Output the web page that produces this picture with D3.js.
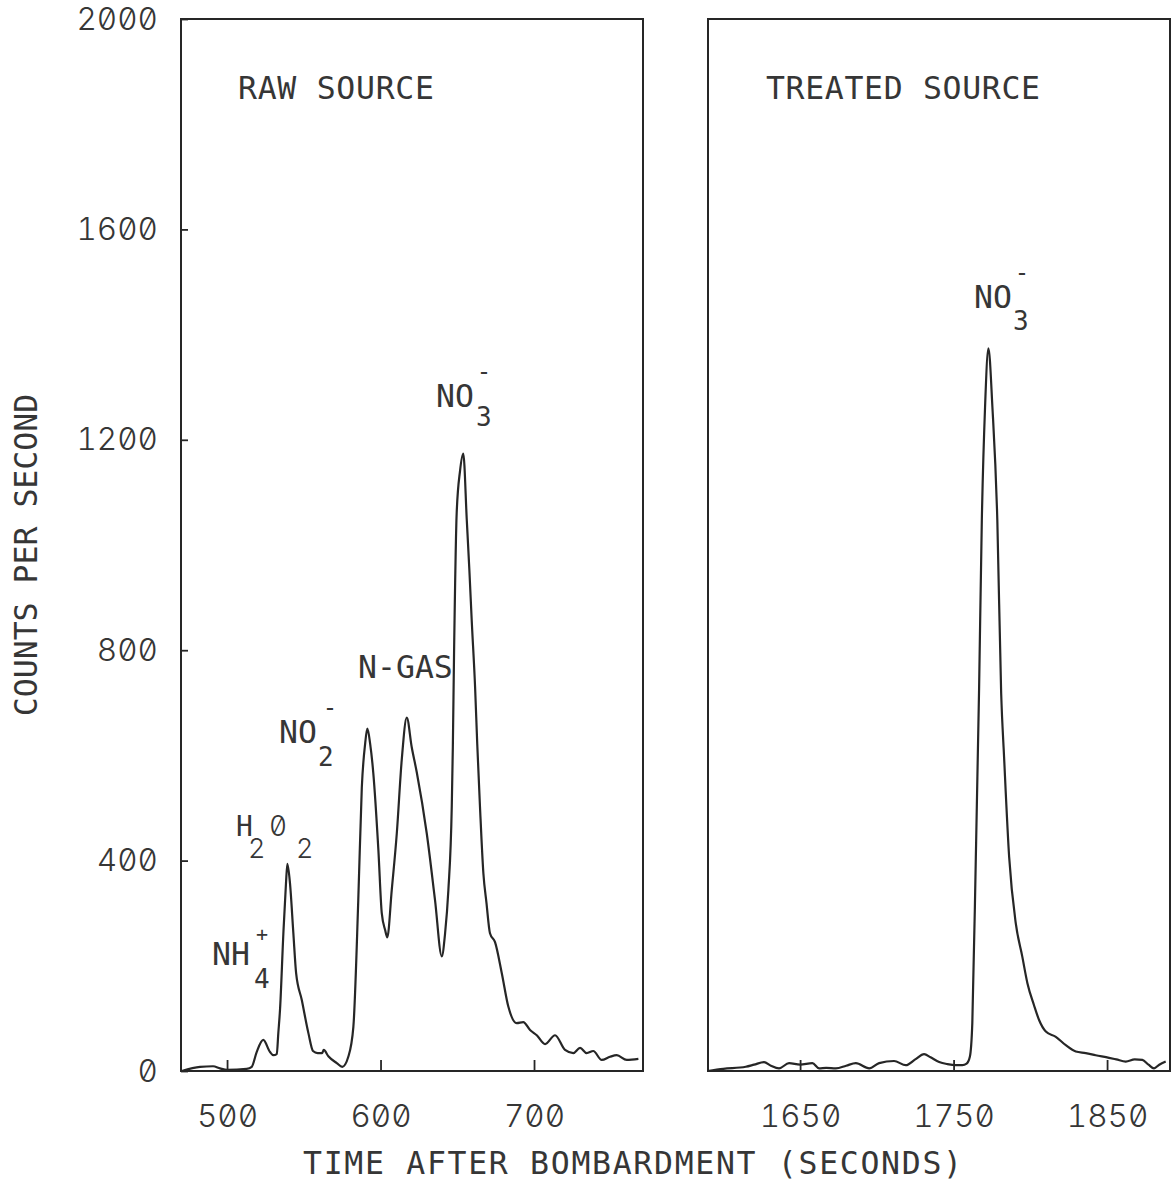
<!DOCTYPE html>
<html>
<head>
<meta charset="utf-8">
<script src="https://cdn.jsdelivr.net/npm/d3@7"></script>
<style>
  html, body { margin: 0; padding: 0; background: #fff; }
  svg { display: block; }
  text { font-family: "DejaVu Sans Mono", "Liberation Mono", monospace; fill: #363636; }
  .num { font-family: Inter, "DejaVu Sans Mono", monospace; font-weight: 300;
         font-feature-settings: "tnum" 1, "zero" 1; }
</style>
</head>
<body>
<svg id="chart" width="1172" height="1195"></svg>
<script>
// ---------------- DATA ----------------
// Raw source: time after bombardment (s) and counts per second
const rawTime = [470.5, 482.4, 490.9, 495.4, 500, 512.8, 516.1, 519.3, 523.6, 528.0,
  530.2, 532.4, 533.4, 534.5, 536.7, 538.4, 539.3, 541.0, 543.2, 545.0,
  548.7, 553.0, 556.0, 559.0, 561.9, 563.0, 566.0, 571.5, 575.1, 579.0,
  582.3, 585.5, 587.8, 590.0, 591.4, 593.2, 595.3, 598.6, 600.8, 603.0,
  604.4, 607.3, 610.6, 613.8, 617.1, 620.3, 623.6, 630.1, 635.5, 639.9,
  642.0, 644.2, 646.4, 647.1, 647.9, 649.6, 651.8, 653.9, 656.2, 657.9,
  659.4, 661.6, 663.0, 664.8, 667.0, 669.0, 671.3, 674.6, 679.0, 683.3,
  688.7, 693.0, 697.4, 701.8, 707.2, 713.7, 720.2, 725.6, 730.0, 734.3,
  738.6, 744.1, 749.5, 753.9, 760.4, 768.0];
const rawCounts = [0, 8, 9, 5, 2, 4, 8, 36, 59, 36,
  30, 32, 72, 116, 262, 357, 394, 357, 262, 186,
  135, 72, 38, 34, 34, 40, 28, 15, 8, 27,
  84, 325, 539, 623, 651, 623, 566, 420, 300, 268,
  254, 344, 452, 591, 672, 616, 568, 452, 325, 218,
  260, 344, 502, 615, 794, 1060, 1141, 1174, 1047, 951,
  857, 730, 622, 502, 376, 320, 262, 245, 186, 122,
  91, 93, 78, 68, 51, 68, 40, 34, 44, 34,
  38, 21, 27, 30, 21, 23];

// Treated source
const treatedTime = [1589.6, 1600, 1614.6, 1620, 1626.5, 1631, 1636.3, 1642.8, 1650, 1658.0,
  1662.4, 1667, 1673.3, 1680, 1686.3, 1695.0, 1701.5, 1711.2, 1718.9, 1725,
  1730.8, 1735, 1740.6, 1746, 1751.4, 1755.7, 1758.5, 1760.6, 1762.2, 1764.5,
  1766.6, 1768.4, 1770.5, 1772.7, 1775.3, 1778.5, 1781.0, 1782.9, 1786.2, 1790.5,
  1794.8, 1798.1, 1802.4, 1805.7, 1810.1, 1816.6, 1823.1, 1829.6, 1836.1, 1842.6,
  1851.3, 1856, 1862.2, 1868, 1873.0, 1877, 1880.6, 1884, 1888.2];
const treatedCounts = [0, 4, 8, 12, 17, 10, 5, 15, 12, 15,
  5, 6, 5, 10, 15, 5, 15, 19, 11, 22,
  32, 26, 17, 13, 11, 11, 14, 27, 91, 407,
  724, 1047, 1262, 1374, 1262, 1047, 718, 597, 407, 281,
  217, 167, 125, 97, 75, 65, 49, 37, 34, 30,
  25, 22, 18, 22, 21, 12, 5, 12, 18];

const yTicks = [0, 400, 800, 1200, 1600, 2000];
const rawXTicks = [500, 600, 700];
const treatedXTicks = [1650, 1750, 1850];
const rawDomain = [470, 771];
const treatedDomain = [1590, 1891];
const yDomain = [0, 2000];

const panelTitles = ["RAW SOURCE", "TREATED SOURCE"];
const xTitle = "TIME AFTER BOMBARDMENT (SECONDS)";
const yTitle = "COUNTS PER SECOND";

// ---------------- LAYOUT ----------------
const svg = d3.select("#chart");
svg.append("rect").attr("width", 1172).attr("height", 1195).attr("fill", "#fff");

const INK = "#262626";
const FS = 31.5;

const y = d3.scaleLinear().domain(yDomain).range([1071, 19]);
const xL = d3.scaleLinear().domain(rawDomain).range([181, 643]);
const xR = d3.scaleLinear().domain(treatedDomain).range([708, 1170]);

function styleAxis(g) {
  g.select(".domain").remove();
  g.selectAll(".tick line").attr("stroke", INK).attr("stroke-width", 1.8);
  g.selectAll(".tick text").attr("font-size", FS).attr("fill", "#363636")
    .attr("font-family", null).attr("class", "num");
}

// boxes
[xL, xR].forEach(x => {
  svg.append("rect")
    .attr("x", x.range()[0]).attr("y", y.range()[1])
    .attr("width", x.range()[1] - x.range()[0])
    .attr("height", y.range()[0] - y.range()[1])
    .attr("fill", "none").attr("stroke", INK).attr("stroke-width", 2);
});

// y axis (left panel)
svg.append("g").attr("transform", `translate(${xL.range()[0]},0)`)
  .call(d3.axisLeft(y).tickValues(yTicks).tickSize(-7).tickPadding(23).tickFormat(d3.format("d")))
  .call(styleAxis);

// x axes
svg.append("g").attr("transform", `translate(0,${y.range()[0]})`)
  .call(d3.axisBottom(xL).tickValues(rawXTicks).tickSize(-11).tickPadding(34).tickFormat(d3.format("d")))
  .call(styleAxis);
svg.append("g").attr("transform", `translate(0,${y.range()[0]})`)
  .call(d3.axisBottom(xR).tickValues(treatedXTicks).tickSize(-11).tickPadding(34).tickFormat(d3.format("d")))
  .call(styleAxis);

// curves
const rawData = rawTime.map((t, i) => ({ t, v: rawCounts[i] }));
const treatedData = treatedTime.map((t, i) => ({ t, v: treatedCounts[i] }));

svg.append("path").datum(rawData)
  .attr("fill", "none").attr("stroke", INK).attr("stroke-width", 2.2).attr("stroke-linejoin", "round")
  .attr("d", d3.line().x(d => xL(d.t)).y(d => y(d.v)).curve(d3.curveMonotoneX));
svg.append("path").datum(treatedData)
  .attr("fill", "none").attr("stroke", INK).attr("stroke-width", 2.2).attr("stroke-linejoin", "round")
  .attr("d", d3.line().x(d => xR(d.t)).y(d => y(d.v)).curve(d3.curveMonotoneX));

// panel titles
svg.append("text").attr("x", 238).attr("y", 99).attr("font-size", FS)
  .attr("textLength", 196).attr("lengthAdjust", "spacing").text(panelTitles[0]);
svg.append("text").attr("x", 766).attr("y", 99).attr("font-size", FS)
  .attr("textLength", 274).attr("lengthAdjust", "spacing").text(panelTitles[1]);

// axis titles
svg.append("text").attr("x", 303).attr("y", 1174).attr("font-size", FS)
  .attr("textLength", 659).attr("lengthAdjust", "spacing").text(xTitle);
svg.append("text").attr("transform", "translate(37,555) rotate(-90)")
  .attr("text-anchor", "middle").attr("font-size", FS).text(yTitle);

// peak labels: [text, x, baseline, size, anchor, numeric-font]
const labelPieces = [
  ["NH", 212, 965, FS, "start", false], ["4", 254, 988, 26, "start", false], ["+", 262, 941, 20, "middle", false],
  ["H", 236, 836, 28, "start", false], ["2", 248, 858, 27, "start", true], ["0", 269, 836, 28, "start", true], ["2", 296, 858, 27, "start", true],
  ["NO", 279, 743, FS, "start", false], ["2", 318, 766, 26, "start", false], ["-", 330, 716, 24, "middle", false],
  ["N-GAS", 358, 678, FS, "start", false],
  ["NO", 436, 407, FS, "start", false], ["3", 476, 426, 26, "start", false], ["-", 484, 380, 24, "middle", false],
  ["NO", 974, 308, FS, "start", false], ["3", 1013, 330, 26, "start", false], ["-", 1022, 281, 24, "middle", false]
];
labelPieces.forEach(([txt, x, yy, fs, anchor, isNum]) => {
  svg.append("text").attr("x", x).attr("y", yy).attr("font-size", fs)
    .attr("text-anchor", anchor).attr("class", isNum ? "num" : null).text(txt);
});
</script>
</body>
</html>
